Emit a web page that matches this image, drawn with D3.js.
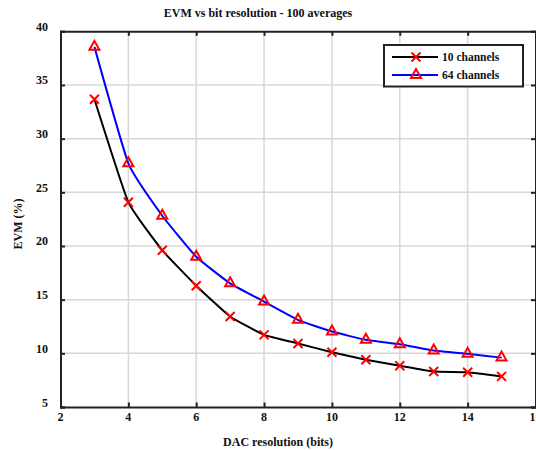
<!DOCTYPE html>
<html>
<head>
<meta charset="utf-8">
<script src="https://cdn.jsdelivr.net/npm/d3@7/dist/d3.min.js"></script>
<style>
  html, body { margin: 0; padding: 0; background: #fff; overflow: hidden; }
  svg { display: block; }
  text { font-family: "Liberation Serif", "DejaVu Serif", serif; font-weight: bold; fill: #111; }
</style>
</head>
<body>
<svg id="chart" width="536" height="450"></svg>
<script>
// DAC resolution in bits
const bits = [3, 4, 5, 6, 7, 8, 9, 10, 11, 12, 13, 14, 15];
// EVM (%) averaged over 100 runs
const evm10 = [33.67, 24.08, 19.6, 16.3, 13.43, 11.72, 10.92, 10.1, 9.4, 8.85, 8.31, 8.24, 7.85];
const evm64 = [38.55, 27.7, 22.82, 19.0, 16.52, 14.82, 13.12, 12.03, 11.26, 10.85, 10.26, 9.95, 9.6];
const xTicks = [2, 4, 6, 8, 10, 12, 14, 16];
const yTicks = [5, 10, 15, 20, 25, 30, 35, 40];
const seriesNames = ["10 channels", "64 channels"];

const svg = d3.select("#chart");
const plotL = 60.5, plotR = 535.5, plotT = 31.3, plotB = 407;

const x = d3.scaleLinear().domain([2, 16]).range([plotL, plotR]);
const y = d3.scaleLinear().domain([5, 40]).range([plotB, plotT]);

// grid
const grid = svg.append("g").attr("stroke", "#d8d8d8").attr("stroke-width", 1.5);
grid.selectAll(".gx").data(xTicks.slice(1, -1)).join("line")
  .attr("x1", d => x(d)).attr("x2", d => x(d)).attr("y1", plotT).attr("y2", plotB);
grid.selectAll(".gy").data(yTicks.slice(1, -1)).join("line")
  .attr("x1", plotL).attr("x2", plotR).attr("y1", d => y(d)).attr("y2", d => y(d));

// axes with inward ticks on all four sides
const tickLen = 4.5;
const axB = svg.append("g").attr("transform", `translate(0,${plotB})`)
  .call(d3.axisBottom(x).tickValues(xTicks).tickSize(-tickLen).tickFormat(""));
const axT = svg.append("g").attr("transform", `translate(0,${plotT})`)
  .call(d3.axisTop(x).tickValues(xTicks).tickSize(-tickLen).tickFormat(""));
const axL = svg.append("g").attr("transform", `translate(${plotL},0)`)
  .call(d3.axisLeft(y).tickValues(yTicks).tickSize(-tickLen).tickFormat(""));
const axR = svg.append("g").attr("transform", `translate(${plotR},0)`)
  .call(d3.axisRight(y).tickValues(yTicks).tickSize(-tickLen).tickFormat(""));
[axB, axT, axL, axR].forEach(a => {
  a.select(".domain").attr("stroke", "#222").attr("stroke-width", 2);
  a.selectAll(".tick line").attr("stroke", "#222").attr("stroke-width", 2);
});

// tick labels
svg.append("g").selectAll("text").data(xTicks).join("text")
  .attr("x", d => x(d)).attr("y", 421).attr("text-anchor", "middle")
  .attr("font-size", 12).text(d => d);
svg.append("g").selectAll("text").data(yTicks).join("text")
  .attr("x", 48).attr("y", d => y(d) - 0.5).attr("text-anchor", "end")
  .attr("font-size", 12).text(d => d);

// titles
svg.append("text").attr("x", 258).attr("y", 16.5).attr("text-anchor", "middle")
  .attr("font-size", 12).text("EVM vs bit resolution - 100 averages");
svg.append("text").attr("x", 278).attr("y", 446).attr("text-anchor", "middle")
  .attr("font-size", 12).text("DAC resolution (bits)");
svg.append("text").attr("transform", "translate(22,224) rotate(-90)").attr("text-anchor", "middle")
  .attr("font-size", 12).text("EVM (%)");

// curves, lightly smoothed between measured points
const line = d3.line().x(d => x(d[0])).y(d => y(d[1])).curve(d3.curveCardinal.tension(0.6));
const s10 = bits.map((b, i) => [b, evm10[i]]);
const s64 = bits.map((b, i) => [b, evm64[i]]);
svg.append("path").datum(s10).attr("d", line)
  .attr("fill", "none").attr("stroke", "#000").attr("stroke-width", 2);
svg.append("path").datum(s64).attr("d", line)
  .attr("fill", "none").attr("stroke", "#0000ff").attr("stroke-width", 2);

// marker helpers
function cross(g, cx, cy) {
  const r = 4.5;
  g.append("path")
    .attr("d", `M${cx - r},${cy - r}L${cx + r},${cy + r}M${cx - r},${cy + r}L${cx + r},${cy - r}`)
    .attr("stroke", "#ff0000").attr("stroke-width", 2).attr("fill", "none");
}
function tri(g, cx, cy) {
  const r = 5;
  g.append("path")
    .attr("d", `M${cx},${cy - r}L${cx + r},${cy + r * 0.8}L${cx - r},${cy + r * 0.8}Z`)
    .attr("stroke", "#ff0000").attr("stroke-width", 2).attr("fill", "none");
}
const mk = svg.append("g");
s10.forEach(d => cross(mk, x(d[0]), y(d[1])));
s64.forEach(d => tri(mk, x(d[0]), y(d[1]) - 1));

// legend
const lg = svg.append("g");
lg.append("rect").attr("x", 384).attr("y", 45).attr("width", 139).attr("height", 41.5)
  .attr("fill", "#fff").attr("stroke", "#222").attr("stroke-width", 2);
const rows = [{ y: 57, color: "#000", m: cross }, { y: 75, color: "#0000ff", m: tri }];
rows.forEach((r, i) => {
  lg.append("line").attr("x1", 392).attr("x2", 438).attr("y1", r.y).attr("y2", r.y)
    .attr("stroke", r.color).attr("stroke-width", 2);
  r.m(lg, 416, r.y - (i === 1 ? 1 : 0));
  lg.append("text").attr("x", 442).attr("y", r.y + 3.5).attr("font-size", 11.5).text(seriesNames[i]);
});
</script>
</body>
</html>
